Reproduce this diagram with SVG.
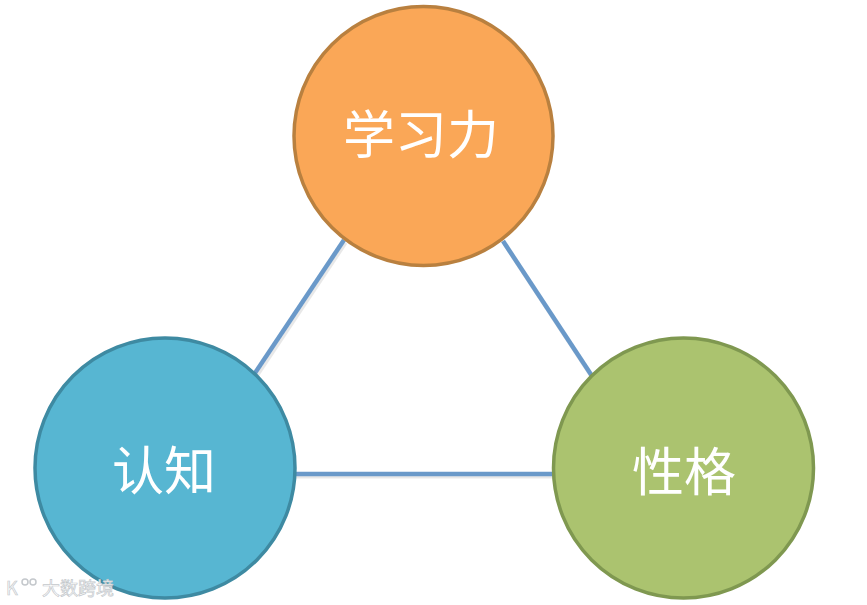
<svg xmlns="http://www.w3.org/2000/svg" width="867" height="605" viewBox="0 0 867 605">
<style>
.n{stroke-width:3.5}
.t{font-family:"Noto Sans CJK SC","Liberation Sans",sans-serif;font-size:52px;fill:#fff;text-anchor:middle;font-weight:400}
.c{stroke:#6A99C9;stroke-width:4.5;fill:none}
.s{stroke:#ccc;stroke-width:3;fill:none;opacity:.45}
.w{font-family:"Noto Sans CJK SC","Liberation Sans",sans-serif;font-size:18px;fill:#fff;stroke:#c4c8cc;stroke-width:.7}
</style>
<rect width="867" height="605" fill="#fff"/>
<g id="connectors">
<line class="s" x1="345" y1="242" x2="257" y2="374" transform="translate(1,1)"/>
<line class="s" x1="503" y1="243" x2="591" y2="377" transform="translate(1,1)"/>
<line class="s" x1="296" y1="477" x2="553" y2="477"/>
<line class="c" x1="344" y1="240" x2="255" y2="373"/>
<line class="c" x1="503" y1="241" x2="592" y2="376"/>
<line class="c" x1="295" y1="474" x2="554" y2="474"/>
</g>
<g id="node-learning">
<circle class="n" cx="423.500" cy="136" r="129.500" fill="#FAA757" stroke="#B9803F"/>
<text class="t" x="421" y="154">学习力</text>
</g>
<g id="node-cognition">
<circle class="n" cx="165" cy="468" r="130" fill="#57B6D2" stroke="#3E8AA2"/>
<text class="t" x="164" y="490">认知</text>
</g>
<g id="node-character">
<circle class="n" cx="683.500" cy="468" r="130" fill="#ABC36F" stroke="#7F9850"/>
<text class="t" x="684" y="491">性格</text>
</g>
<g id="watermark">
<text class="w" x="6" y="595" font-size="20">K</text>
<circle cx="25" cy="582" r="3" fill="#fff" stroke="#c4c8cc" stroke-width="1.500"/>
<circle cx="33" cy="582" r="3" fill="#fff" stroke="#c4c8cc" stroke-width="1.500"/>
<text class="w" x="42" y="595">大数跨境</text>
</g>
</svg>
